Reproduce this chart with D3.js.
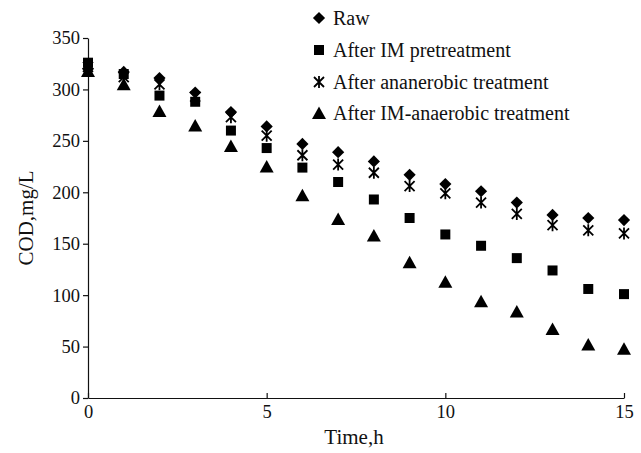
<!DOCTYPE html>
<html>
<head>
<meta charset="utf-8">
<script src="https://cdn.jsdelivr.net/npm/d3@7"></script>
<style>
  body{margin:0;background:#fff;}
  text{font-family:"Liberation Serif","Times New Roman",serif;fill:#111;}
</style>
</head>
<body>
<svg id="chart" width="641" height="453"></svg>
<script>
// 데이터
var hours = [0,1,2,3,4,5,6,7,8,9,10,11,12,13,14,15]
var raw = [320,317,311,297,278,264,247,239,230,217,208,201,190,178,175,173]
var im_pre = [326,315,294,288,260,243,224,210,193,175,159,148,136,124,106,101]
var anaerobic = [322,312,305,293,273,255,236,227,219,206,199,190,179,168,163,160]
var im_anaerobic = [318,305,279,265,245,225,197,174,158,132,113,94,84,67,52,48]
var series_names = ["Raw","After IM pretreatment","After ananerobic treatment","After IM-anaerobic treatment"]
var y_ticks = [0,50,100,150,200,250,300,350]
var x_ticks = [0,5,10,15]

var svg = d3.select("#chart")
var x = d3.scaleLinear().domain([0,15]).range([88,624])
var y = d3.scaleLinear().domain([0,350]).range([398,38])

// 축
var xAxis = svg.append("g").attr("transform","translate(0,398)")
  .call(d3.axisBottom(x).tickValues(x_ticks).tickSizeInner(-5).tickSizeOuter(0).tickPadding(7))
xAxis.selectAll("text").attr("font-size",18.5).attr("dy","0.71em")
var yAxis = svg.append("g").attr("transform","translate(88,0)")
  .call(d3.axisLeft(y).tickValues(y_ticks).tickSizeInner(5).tickSizeOuter(0).tickPadding(3))
yAxis.selectAll("text").attr("font-size",18.5)
svg.selectAll(".domain, .tick line").attr("stroke","#111").attr("stroke-width",1.2)
svg.selectAll(".tick text").style("font-family","Liberation Serif, serif").attr("fill","#111")

svg.append("text").attr("x",354).attr("y",444).attr("text-anchor","middle")
  .attr("font-size",21).text("Time,h")
svg.append("text").attr("transform","translate(33,218) rotate(-90)").attr("text-anchor","middle")
  .attr("font-size",21).text("COD,mg/L")

// 마커 그리기
function draw_marker(g, kind){
  if(kind == "diamond"){
    g.append("path").attr("d", d3.symbol().type(d3.symbolDiamond2).size(95)()).attr("fill","#000")
  } else if(kind == "square"){
    g.append("path").attr("d", d3.symbol().type(d3.symbolSquare).size(100)()).attr("fill","#000")
  } else if(kind == "triangle"){
    g.append("path").attr("d", "M0,-6.5L7,6L-7,6Z").attr("fill","#000")
  } else {
    g.append("path").attr("d","M-5,-5L5,5M-5,5L5,-5M0,-6L0,6").attr("stroke","#000").attr("stroke-width",1.8).attr("fill","none")
  }
}

var all_series = [
  {name:series_names[0], vals:raw, kind:"diamond"},
  {name:series_names[1], vals:im_pre, kind:"square"},
  {name:series_names[2], vals:anaerobic, kind:"star"},
  {name:series_names[3], vals:im_anaerobic, kind:"triangle"}
]

// 그리는 순서: 삼각형, 사각형, 별, 마름모
var order = [3,1,2,0]
for(var k=0; k<order.length; k++){
  var s = all_series[order[k]]
  svg.append("g").selectAll("g").data(hours).enter().append("g")
    .attr("transform", function(d,i){ return "translate("+x(d)+","+y(s.vals[i])+")" })
    .each(function(){ draw_marker(d3.select(this), s.kind) })
}

// 범례
var legend = svg.append("g")
var legend_y = [18,50,82,113]
for(var k=0; k<all_series.length; k++){
  var row = legend.append("g").attr("transform","translate(319,"+legend_y[k]+")")
  draw_marker(row.append("g"), all_series[k].kind)
  row.append("text").attr("x",14).attr("y",0).attr("dy","0.35em").attr("font-size",20).text(all_series[k].name)
}
</script>
</body>
</html>
